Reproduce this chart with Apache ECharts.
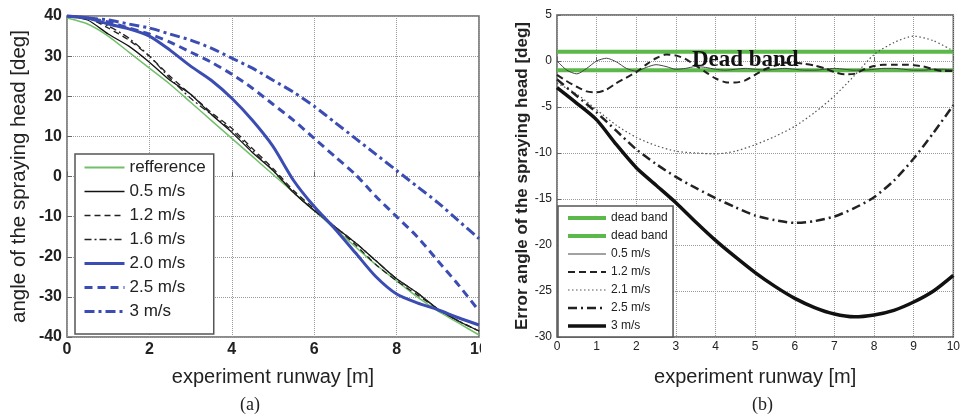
<!DOCTYPE html>
<html>
<head>
<meta charset="utf-8">
<title>spraying head angle</title>
<script src="https://cdn.jsdelivr.net/npm/echarts@6/dist/echarts.min.js"></script>
<style>
  html, body { margin: 0; padding: 0; background: #fff; }
  #main { width: 963px; height: 418px; }
</style>
</head>
<body>
<div id="main"></div>
<script>
// ---- (a) angle of the spraying head ----
var xLeft = [0, 0.5, 1, 1.5, 2, 2.5, 3, 3.5, 4, 4.5, 5, 5.5, 6, 6.5, 7, 7.5, 8, 8.5, 9, 9.5, 10];
var refference = [39.5, 38, 35, 31, 27, 23, 18.5, 14, 9.5, 5, 0.5, -4, -8.5, -13, -17.5, -22, -26, -30, -33.5, -36.5, -39.5];
var v05 = [40, 39, 35.5, 32.5, 28.5, 24, 20.5, 15.5, 11, 6, 1.5, -4, -8.5, -12.5, -16.5, -21, -25.5, -29, -33, -36, -38.5];
var v12 = [40, 39.5, 37, 34, 30, 25, 20.5, 16, 12, 7, 2, -3.5, -8, -12.5, -17, -22, -26, -29.5, -33, -36, -38.5];
var v16 = [40, 39.5, 37.5, 34.5, 30, 24.5, 19.5, 15.5, 11.5, 6.5, 1.5, -4, -8.5, -12.5, -16.5, -21, -25.5, -29, -33, -36, -38.5];
var v20 = [40, 39.5, 38, 36.8, 35, 31.5, 27.5, 24, 19.5, 14, 7.5, -1, -7.5, -13, -19, -25, -29.3, -31.5, -33.2, -35.2, -37];
var v25 = [40, 39.5, 38.5, 37, 35.5, 33.5, 31, 28.5, 25.5, 22, 18, 14, 9.5, 5, 0.5, -5, -10, -15, -21, -27, -33.5];
var v30 = [40, 39.5, 39, 38, 37, 35.5, 34, 32, 29.5, 27, 24, 21, 17.5, 13.5, 9.5, 5.5, 1.5, -2.5, -6.5, -11, -15.5];

// ---- (b) error angle of the spraying head ----
var xRight = [0, 0.5, 1, 1.5, 2, 2.5, 3, 3.5, 4, 4.5, 5, 5.5, 6, 6.5, 7, 7.5, 8, 8.5, 9, 9.5, 10];
var xRightFine = [0, 0.25, 0.5, 0.75, 1, 1.25, 1.5, 1.75, 2, 2.25, 2.5, 2.75, 3, 3.25, 3.5, 3.75, 4, 4.25, 4.5, 4.75, 5,
  5.25, 5.5, 5.75, 6, 6.25, 6.5, 6.75, 7, 7.25, 7.5, 7.75, 8, 8.25, 8.5, 8.75, 9, 9.25, 9.5, 9.75, 10];
var deadBandX = [0, 10];
var deadBandUp = [1, 1];
var deadBandLow = [-1, -1];
var e05 = [0, -1.0, -1.4, -0.8, 0, 0.3, -0.1, -0.8, -1.1, -0.7, -0.4, -0.6, -0.9, -0.8, -0.6, -0.7, -0.9, -1.0, -0.9, -0.8, -0.9,
  -1.0, -0.9, -0.8, -0.9, -1.0, -1.0, -0.9, -0.8, -0.9, -1.0, -1.0, -0.9, -0.8, -0.8, -0.9, -1.0, -1.0, -0.9, -0.9, -1.0];
var e12 = [-1.5, -2.2, -2.8, -3.3, -3.4, -3.1, -2.4, -1.8, -1.2, -0.4, 0.3, 0.7, 0.6, 0.2, -0.5, -1.2, -1.9, -2.3, -2.35, -2.1, -1.5,
  -0.9, -0.5, -0.2, -0.2, -0.3, -0.5, -0.8, -1.2, -1.45, -1.4, -0.9, -0.55, -0.4, -0.4, -0.4, -0.45, -0.6, -0.9, -1.1, -1.1];
var e21 = [-2.4, -3.6, -5.3, -7, -8.3, -9.2, -9.8, -10, -10.1, -9.8, -9.1, -8.2, -7.1, -5.6, -3.8, -1.6, 0.7, 2.0, 2.7, 2.2, 1.1];
var e25 = [-2, -3.8, -5.6, -7.6, -9.6, -11.2, -12.6, -13.8, -14.9, -15.9, -16.8, -17.3, -17.6, -17.4, -16.9, -16, -14.8, -13, -10.6, -7.8, -4.8];
var e30 = [-2.9, -4.6, -6.4, -9.1, -11.6, -13.5, -15.4, -17.5, -19.5, -21.3, -23.0, -24.5, -25.8, -26.8, -27.5, -27.8, -27.6, -27.1, -26.2, -25, -23.3];
var deadBandText = 'Dead band';

function pairs(xs, ys) {
  return xs.map(function (x, i) { return [x, ys[i]]; });
}

var blue = '#3b4db3';
var greenRef = '#72c06a';
var greenBand = '#5cb84a';
var dotted = { type: 'dotted', color: '#9a9a9a', width: 1 };
var sans = 'Liberation Sans';

function line(name, xi, yi, data, color, width, type, extra) {
  var s = {
    name: name,
    type: 'line',
    xAxisIndex: xi,
    yAxisIndex: yi,
    data: data,
    showSymbol: false,
    symbol: 'none',
    smooth: 0.25,
    animation: false,
    lineStyle: { color: color, width: width, type: type },
    itemStyle: { color: color }
  };
  for (var k in extra) s[k] = extra[k];
  return s;
}

var myChart = echarts.init(document.getElementById('main'));
var option = {
  animation: false,
  grid: [
    { left: 67, top: 16, right: 484, bottom: 81, show: true, borderColor: '#666', borderWidth: 1.5, containLabel: false },
    { left: 557, top: 15, right: 0, bottom: 81, show: true, borderColor: '#555', borderWidth: 1.5, containLabel: false }
  ],
  xAxis: [
    {
      gridIndex: 0, type: 'value', min: 0, max: 10, interval: 2,
      name: 'experiment runway [m]', nameLocation: 'middle', nameGap: 30,
      nameTextStyle: { fontFamily: sans, fontSize: 20, color: '#222' },
      axisLine: { show: false },
      axisTick: { show: true, inside: true, length: 5, lineStyle: { color: '#666' } },
      axisLabel: { fontFamily: sans, fontSize: 16, fontWeight: 'bold', color: '#222', margin: 5 },
      splitLine: { show: true, lineStyle: dotted }
    },
    {
      gridIndex: 1, type: 'value', min: 0, max: 10, interval: 1,
      name: 'experiment runway [m]', nameLocation: 'middle', nameGap: 30,
      nameTextStyle: { fontFamily: sans, fontSize: 20, color: '#222' },
      axisLine: { show: false },
      axisTick: { show: true, inside: true, length: 4, lineStyle: { color: '#666' } },
      axisLabel: { fontFamily: sans, fontSize: 12, color: '#222', margin: 4 },
      splitLine: { show: true, lineStyle: dotted }
    }
  ],
  yAxis: [
    {
      gridIndex: 0, type: 'value', min: -40, max: 40, interval: 10,
      name: 'angle of the spraying head [deg]', nameLocation: 'middle', nameGap: 37, nameRotate: 90,
      nameTextStyle: { fontFamily: sans, fontSize: 20.5, color: '#222' },
      axisLine: { show: false },
      axisTick: { show: true, inside: true, length: 5, lineStyle: { color: '#666' } },
      axisLabel: { fontFamily: sans, fontSize: 16, fontWeight: 'bold', color: '#222', margin: 5 },
      splitLine: { show: true, lineStyle: dotted }
    },
    {
      gridIndex: 1, type: 'value', min: -30, max: 5, interval: 5,
      name: 'Error angle of the spraying head [deg]', nameLocation: 'middle', nameGap: 26, nameRotate: 90,
      nameTextStyle: { fontFamily: sans, fontSize: 17, fontWeight: 'bold', color: '#222' },
      axisLine: { show: false },
      axisTick: { show: true, inside: true, length: 4, lineStyle: { color: '#666' } },
      axisLabel: { fontFamily: sans, fontSize: 12, color: '#222', margin: 5 },
      splitLine: { show: true, lineStyle: dotted }
    }
  ],
  legend: [
    {
      orient: 'vertical', left: 75, top: 154,
      itemWidth: 40, itemHeight: 14, itemGap: 7,
      padding: [5, 8, 14, 8],
      borderColor: '#555', borderWidth: 1.5, backgroundColor: '#fff',
      textStyle: { fontFamily: sans, fontSize: 17, color: '#222' },
      itemStyle: { opacity: 0 },
      selectedMode: false,
      data: [
        { name: 'refference', lineStyle: { width: 2 } },
        { name: '0.5 m/s', lineStyle: { width: 1.5 } },
        { name: '1.2 m/s', lineStyle: { width: 1.5 } },
        { name: '1.6 m/s', lineStyle: { width: 1.5 } },
        { name: '2.0 m/s', lineStyle: { width: 3 } },
        { name: '2.5 m/s', lineStyle: { width: 3 } },
        { name: '3 m/s', lineStyle: { width: 3 } }
      ]
    },
    {
      orient: 'vertical', left: 558, top: 206,
      itemWidth: 38, itemHeight: 10, itemGap: 6,
      padding: [6, 2, 5, 8],
      borderColor: '#555', borderWidth: 1.5, backgroundColor: '#fff',
      textStyle: { fontFamily: sans, fontSize: 12, color: '#222' },
      itemStyle: { opacity: 0 },
      selectedMode: false,
      data: [
        { name: 'dead band', lineStyle: { width: 4 } },
        { name: 'dead band ', lineStyle: { width: 4 } },
        { name: 'e 0.5 m/s', lineStyle: { width: 1 } },
        { name: 'e 1.2 m/s', lineStyle: { width: 2 } },
        { name: 'e 2.1 m/s', lineStyle: { width: 1.2 } },
        { name: 'e 2.5 m/s', lineStyle: { width: 2.5 } },
        { name: 'e 3 m/s', lineStyle: { width: 3.5 } }
      ],
      formatter: function (name) { return name.replace(/^e /, ''); }
    }
  ],
  graphic: [
    { type: 'rect', shape: { x: 481, y: 339, width: 22, height: 24 }, style: { fill: '#fff' }, z: 100 },
    { type: 'text', left: 240, top: 396, style: { text: '(a)', font: '18px Liberation Serif', fill: '#222' } },
    { type: 'text', left: 752, top: 396, style: { text: '(b)', font: '18px Liberation Serif', fill: '#222' } }
  ],
  series: [
    line('refference', 0, 0, pairs(xLeft, refference), greenRef, 1.5, 'solid', { z: 3 }),
    line('0.5 m/s', 0, 0, pairs(xLeft, v05), '#111', 1.3, 'solid', {}),
    line('1.2 m/s', 0, 0, pairs(xLeft, v12), '#222', 1.3, [6, 4], {}),
    line('1.6 m/s', 0, 0, pairs(xLeft, v16), '#222', 1.3, [7, 3, 2, 3], {}),
    line('2.0 m/s', 0, 0, pairs(xLeft, v20), blue, 3, 'solid', {}),
    line('2.5 m/s', 0, 0, pairs(xLeft, v25), blue, 3, [8, 5], {}),
    line('3 m/s', 0, 0, pairs(xLeft, v30), blue, 3, [10, 4, 3, 4], {}),

    line('dead band', 1, 1, pairs(deadBandX, deadBandUp), greenBand, 4, 'solid', { smooth: false }),
    line('dead band ', 1, 1, pairs(deadBandX, deadBandLow), greenBand, 4, 'solid', { smooth: false }),
    line('e 0.5 m/s', 1, 1, pairs(xRightFine, e05), '#444', 1, 'solid', {}),
    line('e 1.2 m/s', 1, 1, pairs(xRightFine, e12), '#222', 2, [7, 4], {}),
    line('e 2.1 m/s', 1, 1, pairs(xRight, e21), '#555', 1.2, [1.5, 2.5], {}),
    line('e 2.5 m/s', 1, 1, pairs(xRight, e25), '#222', 2.5, [9, 4, 2, 4], {}),
    line('e 3 m/s', 1, 1, pairs(xRight, e30), '#111', 3.5, 'solid', {
      markPoint: {
        symbol: 'circle', symbolSize: 0,
        data: [{ coord: [4.75, 0.1] }],
        label: {
          show: true, position: 'inside', formatter: deadBandText,
          fontFamily: 'Liberation Serif', fontWeight: 'bold', fontSize: 23, color: '#111'
        }
      }
    })
  ]
};
myChart.setOption(option);
</script>
</body>
</html>
